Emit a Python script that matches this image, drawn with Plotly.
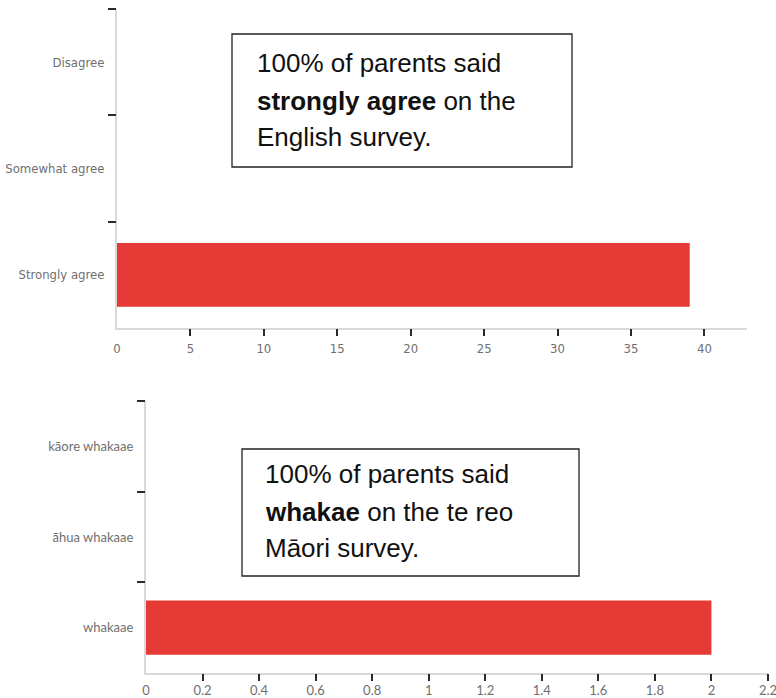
import plotly.graph_objects as go

# ---- data ----
en_categories = ["Strongly agree", "Somewhat agree", "Disagree"]
en_values = [39, 0, 0]
en_xticks = [0, 5, 10, 15, 20, 25, 30, 35, 40]

mi_categories = ["whakaae", "āhua whakaae", "kāore whakaae"]
mi_values = [2, 0, 0]
mi_xticks = [0, 0.2, 0.4, 0.6, 0.8, 1, 1.2, 1.4, 1.6, 1.8, 2, 2.2]

en_note = ["100% of parents said", "<b>strongly agree</b> on the", "English survey."]
mi_note = ["100% of parents said", "<b>whakae</b> on the te reo", "Māori survey."]

W, H = 776, 698
RED = "#e53a36"
LABEL = "#6f6f6f"
AXLINE = "#d9d9d9"
TICK = "#2a2a2a"


def px(x):
    return x / W


def py(y):
    return 1 - y / H


fig = go.Figure()
fig.add_trace(go.Bar(x=en_values, y=en_categories, orientation="h",
                     marker=dict(color=RED, line=dict(width=0)),
                     xaxis="x", yaxis="y", showlegend=False))
fig.add_trace(go.Bar(x=mi_values, y=mi_categories, orientation="h",
                     marker=dict(color=RED, line=dict(width=0)),
                     xaxis="x2", yaxis="y2", showlegend=False))
# empty helper traces so the tick-only overlay axes are drawn
for xa, ya in [("x3", "y"), ("x", "y3"), ("x4", "y2"), ("x2", "y4")]:
    fig.add_trace(go.Scatter(x=[], y=[], xaxis=xa, yaxis=ya, showlegend=False,
                             hoverinfo="skip", mode="markers"))

top_font = dict(family="DejaVu Sans Condensed, Liberation Sans Narrow, sans-serif", size=13, color=LABEL)
bot_font = dict(family="Lato, Liberation Sans, sans-serif", size=13, color=LABEL)

common_x = dict(showgrid=False, zeroline=False, showline=True, linecolor=AXLINE, linewidth=2,
                ticks="outside", ticklen=7, tickcolor="rgba(0,0,0,0)", automargin=False,
                ticklabeloverflow="allow")
common_y = dict(showgrid=False, zeroline=False, showline=True, linecolor=AXLINE, linewidth=2,
                ticks="outside", ticklen=8, tickcolor="rgba(0,0,0,0)", type="category",
                automargin=False)
tick_x = dict(showgrid=False, zeroline=False, showline=False, ticks="outside", ticklen=7,
              tickwidth=1.5, tickcolor=TICK, showticklabels=False, automargin=False)
tick_y = dict(showgrid=False, zeroline=False, showline=False, ticks="outside", ticklen=8,
              tickwidth=1.5, tickcolor=TICK, showticklabels=False, automargin=False)

x2_main = dict(common_x)
x2_main["ticklen"] = 4

fig.update_layout(
    width=W, height=H,
    margin=dict(l=0, r=0, t=0, b=0),
    paper_bgcolor="white", plot_bgcolor="white",
    bargap=0.4,
    xaxis=dict(domain=[px(117), px(747)], anchor="y", range=[0, 42.9],
               tickvals=en_xticks, tickfont=top_font, **common_x),
    yaxis=dict(domain=[py(328), py(9)], anchor="x", range=[-0.5, 2.5],
               categoryorder="array", categoryarray=en_categories,
               tickfont=top_font, **common_y),
    xaxis2=dict(domain=[px(146), px(768)], anchor="y2", range=[0, 2.2001],
                tickvals=mi_xticks, tickfont=bot_font, **x2_main),
    yaxis2=dict(domain=[py(673), py(401)], anchor="x2", range=[-0.5, 2.5],
                categoryorder="array", categoryarray=mi_categories,
                tickfont=bot_font, **common_y),
    # overlay axes that only draw the visible tick marks
    xaxis3=dict(overlaying="x", anchor="y", range=[0, 42.9], tickvals=en_xticks[1:], **tick_x),
    yaxis3=dict(overlaying="y", anchor="x", range=[-0.5, 2.5], tickvals=[0.5, 1.5, 2.5], **tick_y),
    xaxis4=dict(overlaying="x2", anchor="y2", range=[0, 2.2001], tickvals=mi_xticks[1:], **tick_x),
    yaxis4=dict(overlaying="y2", anchor="x2", range=[-0.5, 2.5], tickvals=[0.5, 1.5, 2.5], **tick_y),
)

# note boxes
fig.add_shape(type="rect", xref="paper", yref="paper",
              x0=px(232), x1=px(572), y0=py(167), y1=py(34),
              line=dict(color="#222222", width=1.3), fillcolor="rgba(0,0,0,0)")
fig.add_shape(type="rect", xref="paper", yref="paper",
              x0=px(242), x1=px(579), y0=py(576), y1=py(449),
              line=dict(color="#222222", width=1.3), fillcolor="rgba(0,0,0,0)")

note_font = dict(family="Liberation Sans, Arial, sans-serif", size=26, color="#111111")
for line, ymid in zip(en_note, [63.0, 100.5, 136.5]):
    fig.add_annotation(text=line, xref="paper", yref="paper", x=px(255), y=py(ymid),
                       xanchor="left", yanchor="middle", showarrow=False, font=note_font)
for line, ymid in zip(mi_note, [474.0, 512.0, 548.0]):
    fig.add_annotation(text=line, xref="paper", yref="paper", x=px(263), y=py(ymid),
                       xanchor="left", yanchor="middle", showarrow=False, font=note_font)

fig.write_html("out.html")
